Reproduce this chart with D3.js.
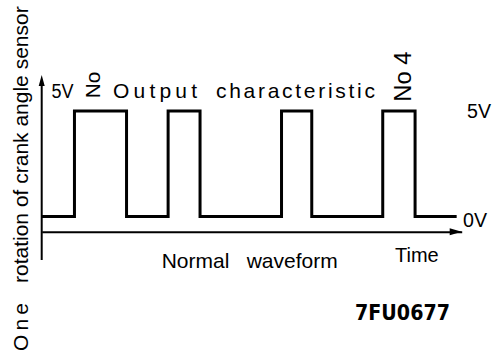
<!DOCTYPE html>
<html>
<head>
<meta charset="utf-8">
<script src="https://cdn.jsdelivr.net/npm/d3@7"></script>
<style>
  html, body { margin: 0; padding: 0; background: #fff; }
  svg { display: block; font-family: "Liberation Sans", Arial, sans-serif; }
</style>
</head>
<body>
<svg id="chart" width="494" height="356"></svg>
<script>
// ---- data (time in arbitrary units, 0..100 along the axis) ----
const riseTimes = [7.8, 30.1, 57.1, 81.2];
const fallTimes = [20.2, 37.7, 64.3, 88.9];
const traceStart = 0;
const traceEnd = 98.8;
const levels = { low: 0, high: 5 };          // volts
const levelLabels = ["5V", "0V"];
const pulseLabels = ["No", "No 4"];
const title = ["Output", "characteristic"];
const xLabel = "Time";
const caption = ["Normal", "waveform"];
const yLabel = ["One", "rotation of crank angle sensor"];
const figureCode = "7FU0677";

// ---- build step points ----
const pts = [[traceStart, levels.low]];
riseTimes.forEach((r, i) => {
  pts.push([r, levels.high]);
  pts.push([fallTimes[i], levels.low]);
});
pts.push([traceEnd, levels.low]);

const svg = d3.select("#chart");
const x = d3.scaleLinear().domain([0, 100]).range([41.7, 461.7]);
const y = d3.scaleLinear().domain([0, 5]).range([216.5, 111]);
const axisY = 231.7;
const vAxisTop = 75, vAxisBottom = 260;

// waveform
svg.append("path")
  .datum(pts)
  .attr("fill", "none")
  .attr("stroke", "#000")
  .attr("stroke-width", 3)
  .attr("stroke-linejoin", "miter")
  .attr("d", d3.line().x(d => x(d[0])).y(d => y(d[1])).curve(d3.curveStepAfter));

// horizontal time axis (no ticks)
const gx = svg.append("g").attr("transform", `translate(0,${axisY})`)
  .call(d3.axisBottom(x).tickValues([]).tickSizeOuter(0));
gx.select(".domain").attr("stroke", "#000").attr("stroke-width", 2);
// arrowhead right
svg.append("path")
  .attr("d", `M${x(100)},${axisY} L${x(100) - 12},${axisY - 3.5} L${x(100) - 12},${axisY + 3.5} Z`)
  .attr("fill", "#000");

// vertical axis
svg.append("line")
  .attr("x1", x(0)).attr("x2", x(0))
  .attr("y1", vAxisBottom).attr("y2", vAxisTop + 6)
  .attr("stroke", "#000").attr("stroke-width", 2);
svg.append("path")
  .attr("d", `M${x(0)},${vAxisTop} L${x(0) - 3},${vAxisTop + 11} L${x(0) + 3},${vAxisTop + 11} Z`)
  .attr("fill", "#000");

function txt(t, px, py, size, opts = {}) {
  const el = svg.append("text")
    .attr("font-size", size)
    .attr("fill", "#000")
    .text(t);
  if (opts.rotate) {
    el.attr("transform", `translate(${px},${py}) rotate(-90)`);
  } else {
    el.attr("x", px).attr("y", py);
  }
  if (opts.len) el.attr("textLength", opts.len).attr("lengthAdjust", opts.adjust || "spacingAndGlyphs");
  if (opts.weight) el.attr("font-weight", opts.weight);
  if (opts.family) el.attr("font-family", opts.family);
  return el;
}

// labels
txt(levelLabels[0], 51.5, 97.5, 20, { len: 22 });
txt(pulseLabels[0], 100, 98.3, 20, { rotate: true, len: 26.6 });
txt(title[0], 113, 97.5, 21, { len: 84, adjust: "spacing" });
txt(title[1], 216, 97.5, 21, { len: 159, adjust: "spacing" });
txt(pulseLabels[1], 410.5, 101.7, 23, { rotate: true, len: 50 });
txt(levelLabels[0], 467, 118.3, 20, { len: 24 });
txt(levelLabels[1], 463, 226.7, 20, { len: 24 });
txt(caption[0], 161.7, 268.3, 21);
txt(caption[1], 246.7, 268.3, 21);
txt(xLabel, 395, 262, 20);
txt(figureCode, 355, 320, 21, { weight: "bold", len: 95, family: "DejaVu Sans" });
txt(yLabel[0], 28, 351, 21, { rotate: true, len: 48, adjust: "spacing" });
txt(yLabel[1], 28, 283, 21, { rotate: true });
</script>
</body>
</html>
